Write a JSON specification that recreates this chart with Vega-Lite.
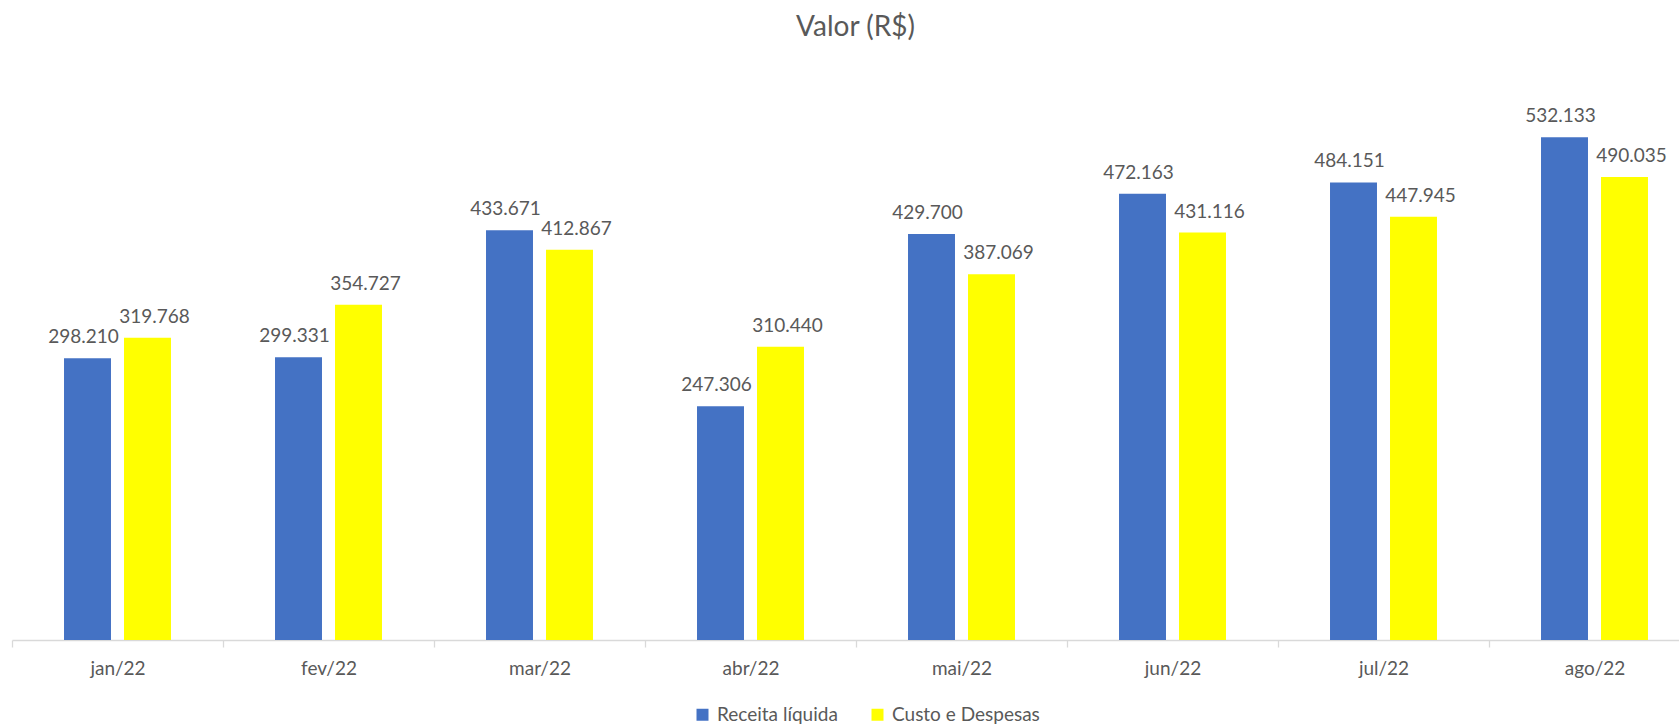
{
  "$schema": "https://vega.github.io/schema/vega-lite/v6.json",
  "width": 1667,
  "height": 567,
  "autosize": {"type": "none"},
  "padding": {"left": 12, "top": 73, "right": 0, "bottom": 84},
  "title": {"text": "Valor (R$)", "fontSize": 28, "font": "Lato", "fontWeight": "normal", "color": "#595959", "anchor": "middle", "dx": 10, "offset": 9, "baseline": "alphabetic"},
  "config": {
    "view": {"stroke": null},
    "font": "Lato",
    "locale": {"number": {"decimal": ",", "thousands": ".", "grouping": [3], "currency": ["R$", ""]}}
  },
  "data": {"values": [
    {"mes": "jan/22", "serie": "Receita líquida", "valor": 298210},
    {"mes": "jan/22", "serie": "Custo e Despesas", "valor": 319768},
    {"mes": "fev/22", "serie": "Receita líquida", "valor": 299331},
    {"mes": "fev/22", "serie": "Custo e Despesas", "valor": 354727},
    {"mes": "mar/22", "serie": "Receita líquida", "valor": 433671},
    {"mes": "mar/22", "serie": "Custo e Despesas", "valor": 412867},
    {"mes": "abr/22", "serie": "Receita líquida", "valor": 247306},
    {"mes": "abr/22", "serie": "Custo e Despesas", "valor": 310440},
    {"mes": "mai/22", "serie": "Receita líquida", "valor": 429700},
    {"mes": "mai/22", "serie": "Custo e Despesas", "valor": 387069},
    {"mes": "jun/22", "serie": "Receita líquida", "valor": 472163},
    {"mes": "jun/22", "serie": "Custo e Despesas", "valor": 431116},
    {"mes": "jul/22", "serie": "Receita líquida", "valor": 484151},
    {"mes": "jul/22", "serie": "Custo e Despesas", "valor": 447945},
    {"mes": "ago/22", "serie": "Receita líquida", "valor": 532133},
    {"mes": "ago/22", "serie": "Custo e Despesas", "valor": 490035}
  ]},
  "encoding": {
    "x": {
      "field": "mes", "type": "nominal", "sort": null,
      "scale": {"range": [0, 1688], "paddingInner": 0, "paddingOuter": 0},
      "axis": {"title": null, "labelAngle": 0, "labelFontSize": 19, "labelFont": "Lato", "labelColor": "#595959", "labelBaseline": "alphabetic", "labelPadding": 27, "tickSize": 7, "tickColor": "#D9D9D9", "domainColor": "#D9D9D9", "domainWidth": 1.3, "tickWidth": 1.3, "tickBand": "extent", "grid": false}
    },
    "xOffset": {"field": "serie", "type": "nominal", "sort": ["Receita líquida", "Custo e Despesas"], "scale": {"paddingInner": 0.217, "paddingOuter": 0.867}},
    "y": {"field": "valor", "type": "quantitative", "scale": {"domain": [0, 600000]}, "axis": null}
  },
  "layer": [
    {
      "mark": {"type": "bar"},
      "encoding": {
        "color": {
          "field": "serie", "type": "nominal",
          "scale": {"domain": ["Receita líquida", "Custo e Despesas"], "range": ["#4472C4", "#FFFF00"]},
          "legend": {"title": null, "orient": "none", "legendX": 681, "legendY": 632, "direction": "horizontal", "symbolType": "square", "symbolSize": 144, "symbolStrokeWidth": 0, "symbolOpacity": 1, "labelFontSize": 19, "labelFont": "Lato", "labelColor": "#595959", "labelOffset": 5, "columnPadding": 30}
        }
      }
    },
    {
      "transform": [{"filter": "datum.serie === 'Receita líquida'"}],
      "mark": {"type": "text", "dy": -15, "dx": -4, "baseline": "alphabetic", "fontSize": 19, "font": "Lato", "color": "#595959"},
      "encoding": {"text": {"field": "valor", "type": "quantitative", "format": ",d"}}
    },
    {
      "transform": [{"filter": "datum.serie === 'Custo e Despesas'"}],
      "mark": {"type": "text", "dy": -15, "dx": 7, "baseline": "alphabetic", "fontSize": 19, "font": "Lato", "color": "#595959"},
      "encoding": {"text": {"field": "valor", "type": "quantitative", "format": ",d"}}
    }
  ]
}
